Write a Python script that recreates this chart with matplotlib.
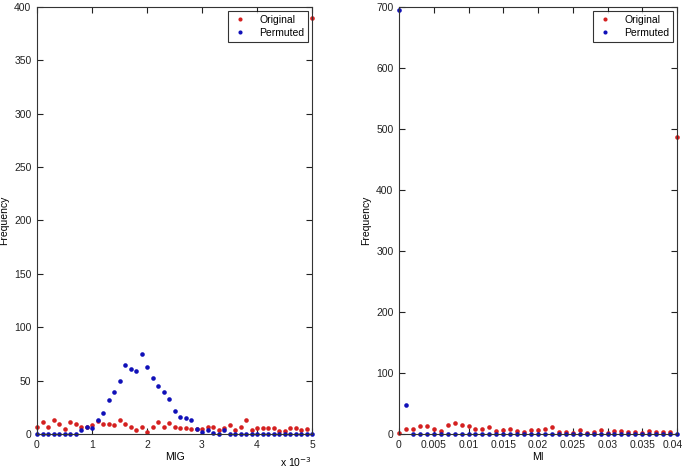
import numpy as np
import matplotlib
matplotlib.use("Agg")
import matplotlib.pyplot as plt
import matplotlib.transforms as mtransforms
from matplotlib.ticker import FuncFormatter

plt.rcParams['font.family'] = ['Liberation Sans', 'DejaVu Sans']

# MIG histogram (bins 0 .. 5e-3, step 1e-4)
mig_bins = np.round(np.arange(0, 51) * 1e-4, 6)
mig_original = [7, 11, 7, 13, 9, 5, 11, 9, 7, 7, 8, 12, 9, 9, 8, 13, 9, 7, 4, 7,
                2, 7, 11, 7, 10, 7, 6, 6, 5, 5, 5, 7, 7, 4, 6, 8, 4, 7, 13, 4,
                6, 6, 6, 6, 3, 3, 6, 6, 4, 5, 390]
mig_permuted = [0, 0, 0, 0, 0, 0, 0, 0, 4, 7, 6, 13, 20, 32, 39, 50, 65, 61, 59, 75,
                63, 52, 45, 39, 33, 22, 16, 15, 13, 5, 2, 4, 1, 0, 4, 0, 0, 0, 0, 0,
                0, 0, 0, 0, 0, 0, 0, 0, 0, 0, 0]

# MI histogram (bins 0 .. 0.04, step 0.001)
mi_bins = np.round(np.arange(0, 41) * 1e-3, 6)
mi_original = [2, 8, 9, 13, 13, 9, 5, 14, 18, 15, 13, 8, 9, 12, 5, 7, 9, 5, 4, 6,
               7, 9, 11, 4, 4, 1, 7, 2, 3, 6, 2, 5, 5, 3, 4, 2, 5, 4, 3, 4, 487]
mi_permuted = [695, 47] + [0] * 39

red = '#d42020'
blue = '#1010b8'
fs = 7.5


def style_axis(ax):
    ax.tick_params(direction='in', top=True, right=True, labelsize=fs,
                   length=4, width=0.8, pad=4, colors='#222222')
    for s in ax.spines.values():
        s.set_linewidth(0.8)
        s.set_color('#333333')


fig = plt.figure(figsize=(6.85, 4.68), dpi=100)
ax1 = fig.add_axes([37 / 685, 34 / 468, 275 / 685, 427 / 468])
ax2 = fig.add_axes([399 / 685, 34 / 468, 278 / 685, 427 / 468])

for ax, x, orig, perm in [(ax1, mig_bins, mig_original, mig_permuted),
                          (ax2, mi_bins, mi_original, mi_permuted)]:
    ax.plot(x, orig, 'o', color=red, markersize=3.3, markeredgewidth=0,
            label='Original', clip_on=False)
    ax.plot(x, perm, 'o', color=blue, markersize=3.3, markeredgewidth=0,
            label='Permuted', clip_on=False)
    ax.set_ylabel('Frequency', fontsize=fs)
    ax.yaxis.set_label_coords(-0.1, 0.5)
    style_axis(ax)
    leg = ax.legend(loc='upper right', fontsize=fs, frameon=True, fancybox=False,
                    borderpad=0.4, handletextpad=1.0, markerscale=0.9,
                    borderaxespad=0.35, handlelength=1.6, labelspacing=0.3)
    leg.get_frame().set_edgecolor('black')
    leg.get_frame().set_linewidth(0.8)

ax1.set_xlim(0, 5e-3)
ax1.set_ylim(0, 400)
ax1.set_xticks(np.arange(0, 6) * 1e-3)
ax1.set_yticks(np.arange(0, 401, 50))
ax1.xaxis.set_major_formatter(FuncFormatter(lambda v, p: '%g' % round(v * 1e3, 6)))
ax1.set_xlabel('MIG', fontsize=fs)
ax1.xaxis.set_label_coords(0.5, -0.043)
ax1.text(1.0, -0.05, r'x 10$^{-3}$', transform=ax1.transAxes, fontsize=fs,
         ha='right', va='top')

ax2.set_xlim(0, 0.04)
ax2.set_ylim(0, 700)
ax2.set_xticks(np.arange(0, 9) * 0.005)
ax2.set_yticks(np.arange(0, 701, 100))
ax2.xaxis.set_major_formatter(FuncFormatter(lambda v, p: '%g' % round(v, 6)))
ax2.set_xlabel('MI', fontsize=fs)
ax2.xaxis.set_label_coords(0.5, -0.043)

# nudge the last MI tick label so it stays inside the figure
last = ax2.get_xticklabels()[-1]
last.set_transform(last.get_transform() +
                   mtransforms.ScaledTranslation(-3 / 72, 0, fig.dpi_scale_trans))

fig.savefig('out.png', dpi=100)
